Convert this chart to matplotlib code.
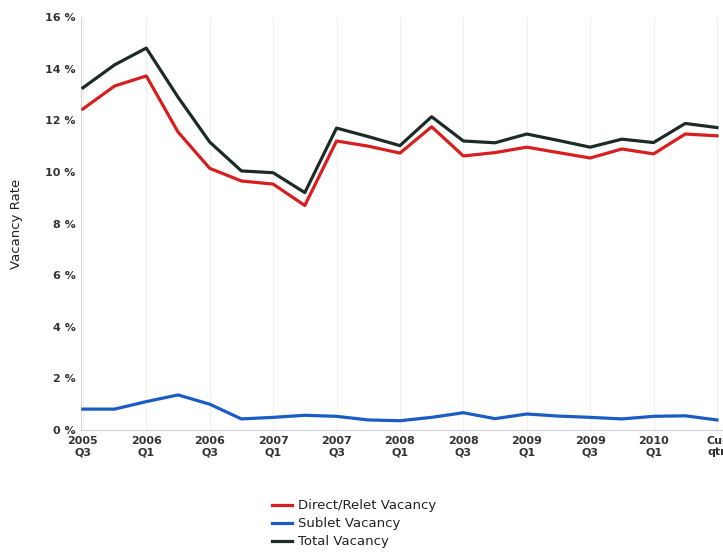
import matplotlib
matplotlib.use("Agg")
import matplotlib.pyplot as plt
import numpy as np

quarters = ["2005 Q3", "2005 Q4", "2006 Q1", "2006 Q2", "2006 Q3", "2006 Q4",
            "2007 Q1", "2007 Q2", "2007 Q3", "2007 Q4", "2008 Q1", "2008 Q2",
            "2008 Q3", "2008 Q4", "2009 Q1", "2009 Q2", "2009 Q3", "2009 Q4",
            "2010 Q1", "2010 Q2", "Cur qtr"]
direct = [12.44, 13.33, 13.72, 11.55, 10.14, 9.65, 9.53, 8.70, 11.20, 11.00,
          10.73, 11.75, 10.62, 10.75, 10.96, 10.75, 10.54, 10.89, 10.70, 11.47, 11.40]
sublet = [0.81, 0.81, 1.10, 1.36, 1.00, 0.43, 0.49, 0.57, 0.53, 0.39,
          0.36, 0.49, 0.67, 0.44, 0.62, 0.54, 0.49, 0.43, 0.53, 0.55, 0.39]
total = [13.26, 14.15, 14.80, 12.90, 11.16, 10.04, 9.97, 9.20, 11.70, 11.37,
         11.02, 12.14, 11.20, 11.13, 11.47, 11.22, 10.96, 11.27, 11.14, 11.88, 11.72]
tick_labels = ["2005\nQ3", "2006\nQ1", "2006\nQ3", "2007\nQ1", "2007\nQ3", "2008\nQ1",
               "2008\nQ3", "2009\nQ1", "2009\nQ3", "2010\nQ1", "Cur\nqtr"]
y_ticks = [0, 2, 4, 6, 8, 10, 12, 14, 16]

fig = plt.figure(figsize=(7.23, 5.52), dpi=100)
ax = fig.add_axes([0.112, 0.221, 0.888, 0.748])
x = np.arange(len(quarters))

ax.plot(x, direct, color="#d81e1e", lw=2.3, label="Direct/Relet Vacancy", zorder=3)
ax.plot(x, sublet, color="#1a5cc4", lw=2.3, label="Sublet Vacancy", zorder=3)
ax.plot(x, total, color="#1c2b24", lw=2.3, label="Total Vacancy", zorder=3)

ax.set_xlim(-0.06, 20.19)
ax.set_ylim(0, 16)
ax.set_xticks(x[::2])
ax.set_xticklabels(tick_labels, fontsize=8, fontweight="bold", color="#333333")
ax.set_yticks(y_ticks)
ax.set_yticklabels([f"{v} %" for v in y_ticks], fontsize=8, fontweight="bold", color="#333333")
ax.tick_params(axis="both", length=0, pad=4)
for s in ["top", "right"]:
    ax.spines[s].set_visible(False)
ax.spines["left"].set_color("#d8d8dc")
ax.spines["bottom"].set_color("#d0d0d8")
ax.grid(axis="x", color="#f0f0f0", lw=0.8)
ax.set_ylabel("Vacancy Rate", fontsize=9.5, color="#222222", labelpad=16)

leg = fig.legend(loc="upper left", bbox_to_anchor=(0.369, 0.105), frameon=False,
                 fontsize=9.5, handlelength=1.5, handletextpad=0.45, labelspacing=0.38,
                 borderaxespad=0)
for t in leg.get_texts():
    t.set_color("#222222")

fig.savefig("out.png", dpi=100)
